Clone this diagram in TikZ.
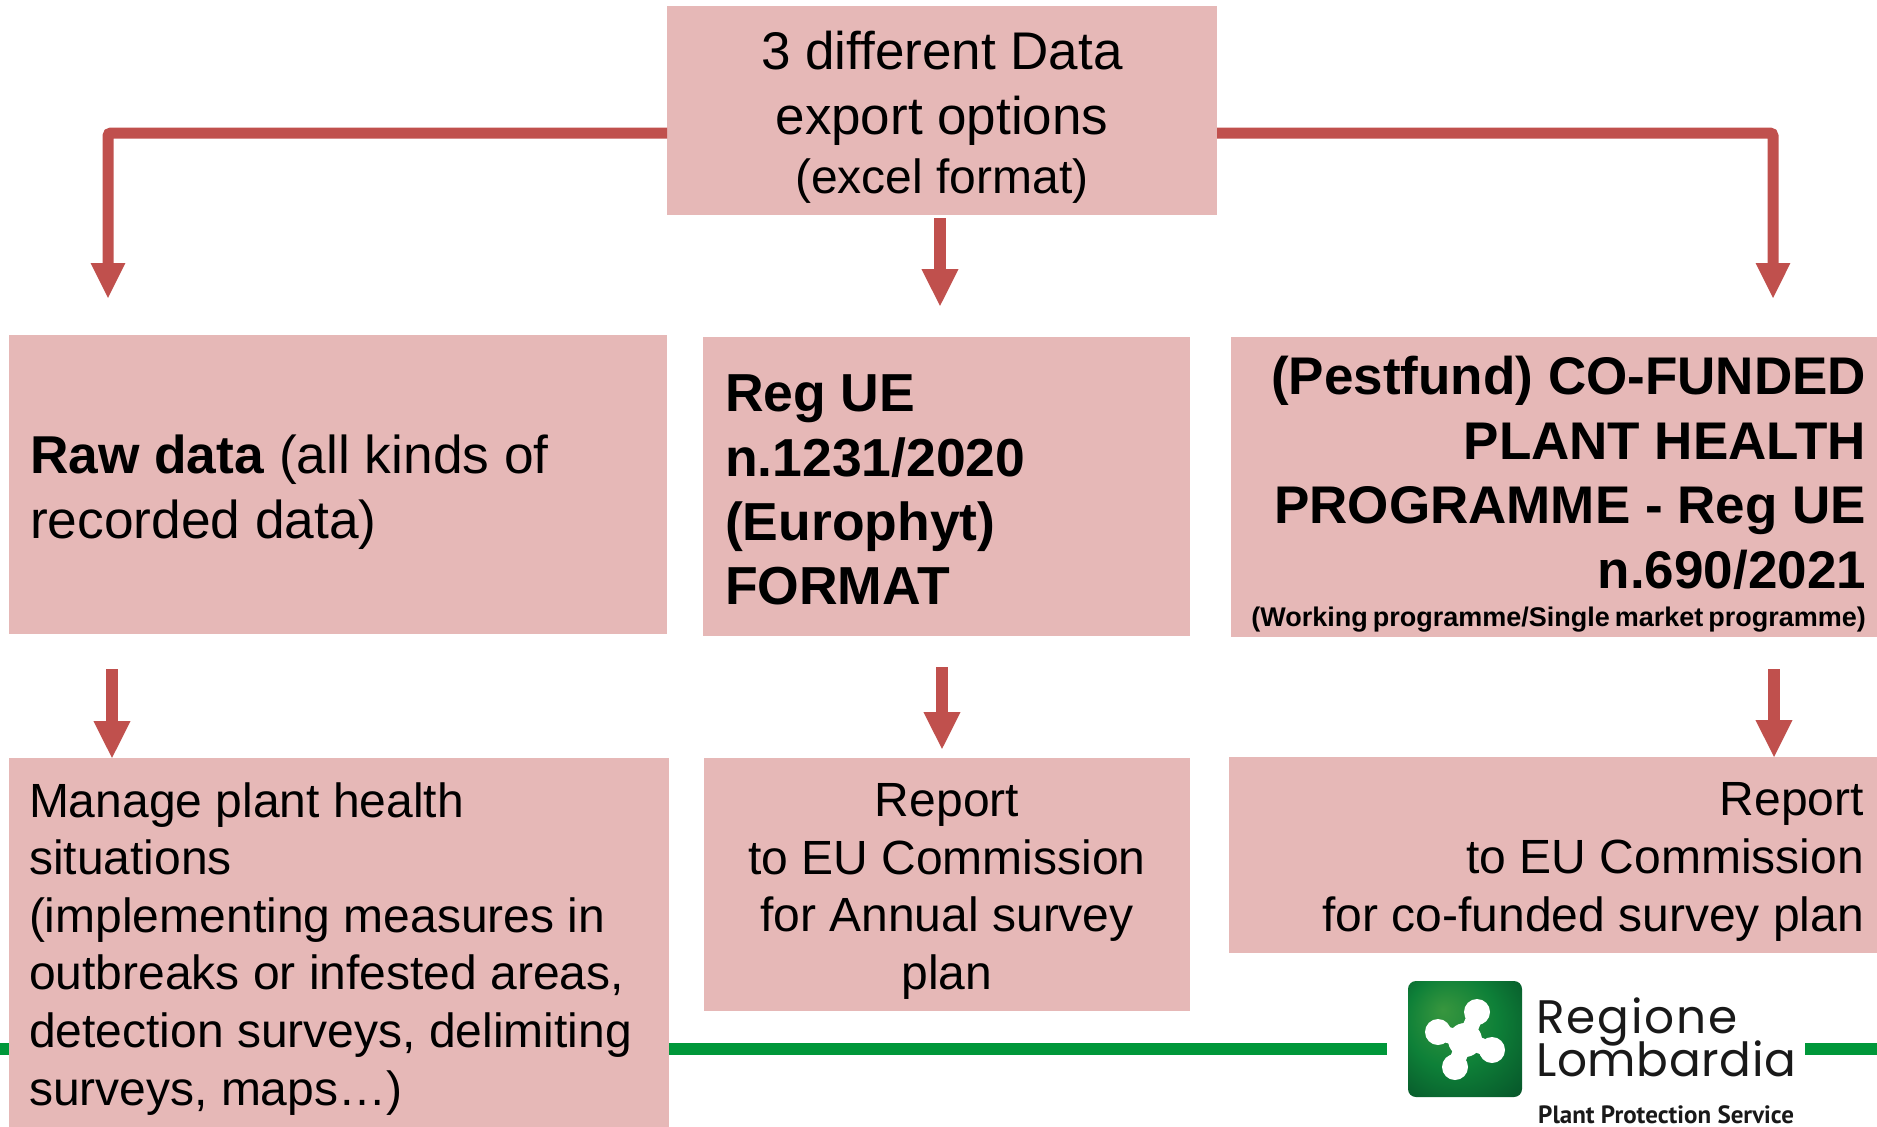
\documentclass[tikz,border=0pt]{standalone}
\usepackage{fontspec}
\setmainfont{Liberation Sans}
\newfontfamily\logofont{Poppins}[LetterSpace=4]
\newfontfamily\logofontb{Poppins}[LetterSpace=1.3]
\newfontfamily\subfont{PT Sans}
\usetikzlibrary{arrows.meta}
\definecolor{boxpink}{HTML}{E6B8B7}
\definecolor{arrowred}{HTML}{C0504D}
\definecolor{linegreen}{HTML}{00973A}
\definecolor{logoA}{RGB}{56,150,62}
\definecolor{logoB}{RGB}{14,128,56}
\definecolor{logoC}{RGB}{8,92,44}
\definecolor{logoD}{RGB}{20,58,28}
\pgfdeclareradialshading{logoshade}{\pgfpoint{-0.35cm}{0.45cm}}{%
  color(0bp)=(logoA);
  color(20bp)=(logoB);
  color(36bp)=(logoC);
  color(50bp)=(logoD)}
\newcommand{\dn}[1]{\rule{0pt}{#1pt}}
\tikzset{
  bx/.style={fill=boxpink,draw=none,inner sep=0pt,outer sep=0pt,anchor=north west},
  big/.style={font=\fontsize{53}{64.6}\selectfont},
  mid/.style={font=\fontsize{48}{57.6}\selectfont},
  conn/.style={draw=arrowred,line width=11pt,rounded corners=3pt,-{Triangle[length=36pt,width=32pt]}},
  conn2/.style={draw=arrowred,line width=12pt,-{Triangle[length=38pt,width=34pt]}},
  greenline/.style={draw=linegreen,line width=12pt},
}
\begin{document}
\begin{tikzpicture}[x=1pt,y=-1pt]
\useasboundingbox (0,0) rectangle (1877,1127);
\clip (0,0) rectangle (1877,1127);
% green rule
\coordinate (gl1) at (0,1049); \coordinate (gl2) at (1387,1049);
\coordinate (gr1) at (1805,1049); \coordinate (gr2) at (1877,1049);
\draw[greenline] (gl1) -- (gl2);
\draw[greenline] (gr1) -- (gr2);
% boxes
\node[bx,big,minimum width=550pt,minimum height=209pt,align=flush center] (top) at (667,6)
  {\dn{52}3 different Data\\ export options\\[-5pt] \fontsize{48}{60}\selectfont (excel format)};
\node[bx,font=\fontsize{53.3}{64.6}\selectfont,minimum width=658pt,minimum height=299pt,text width=616pt,align=flush left,inner xsep=21pt] (raw) at (9,335)
  {\dn{54}\textbf{Raw data} (all kinds of\\ recorded data)};
\node[bx,font=\fontsize{53.5}{64.2}\selectfont,minimum width=487pt,minimum height=299pt,text width=443pt,align=flush left,inner xsep=22pt] (reg) at (703,337)
  {\dn{44}\textbf{Reg UE\\ n.1231/2020\\ (Europhyt)\\ FORMAT}};
\node[bx,big,minimum width=646pt,minimum height=300pt,text width=624pt,align=flush right,inner xsep=11pt] (pest) at (1231,337)
  {\dn{53}\textbf{(Pestfund) CO-FUNDED\\ PLANT HEALTH\\ PROGRAMME - Reg UE\\ n.690/2021\\[-26pt] \fontsize{27}{34}\selectfont\spaceskip=5pt (Working programme/Single market programme)}};
\node[bx,mid,minimum width=660pt,minimum height=376pt,text width=620pt,align=flush left,inner xsep=20pt] (manage) at (9,758)
  {\dn{40}Manage plant health\\ situations\\ (implementing measures in\\ outbreaks or infested areas,\\ detection surveys, delimiting\\ surveys, maps…)};
\node[bx,mid,minimum width=486pt,minimum height=253pt,text width=486pt,align=flush center] (rep1) at (704,758)
  {\dn{47}Report\\ to EU Commission\\ for Annual survey\\ plan};
\node[bx,mid,minimum width=648pt,minimum height=196pt,text width=622pt,align=flush right,inner xsep=13pt] (rep2) at (1229,757)
  {\dn{47}Report\\ to EU Commission\\ for co-funded survey plan};
% connectors
\coordinate (t1) at (667,133); \coordinate (e1) at (108,299);
\coordinate (t2) at (1217,133); \coordinate (e2) at (1773,299);
\coordinate (t3) at (940,218); \coordinate (e3) at (940,307);
\coordinate (t4) at (112,669); \coordinate (e4) at (112,759);
\coordinate (t5) at (942,667); \coordinate (e5) at (942,750);
\coordinate (t6) at (1774,669); \coordinate (e6) at (1774,758);
\draw[conn] (t1) -| (e1);
\draw[conn] (t2) -| (e2);
\draw[conn2] (t3) -- (e3);
\draw[conn2] (t4) -- (e4);
\draw[conn2] (t5) -- (e5);
\draw[conn2] (t6) -- (e6);
% logo
\shade[shading=logoshade,rounded corners=8pt] (1408,981) rectangle (1522,1097);
\fill[white] (1477,1012) circle (13) (1438,1032) circle (13) (1492,1050) circle (13) (1455,1067) circle (13) (1465,1040) circle (17);
\draw[white,line width=16pt] (1477,1012) -- (1465,1040) -- (1455,1067);
\draw[white,line width=16pt] (1438,1032) -- (1465,1040) -- (1492,1050);
\node[anchor=base west,inner sep=0pt,font=\logofont\fontsize{47}{47}\selectfont,text=black!90] (lg1) at (1536,1033) {Regione};
\node[anchor=base west,inner sep=0pt,font=\logofontb\fontsize{47}{47}\selectfont,text=black!90] (lg2) at (1536,1076) {Lombardia};
\node[anchor=base west,inner sep=0pt,font=\subfont\bfseries\fontsize{25}{25}\selectfont,text=black!90] (lg3) at (1538,1123) {Plant Protection Service};
\end{tikzpicture}
\end{document}
